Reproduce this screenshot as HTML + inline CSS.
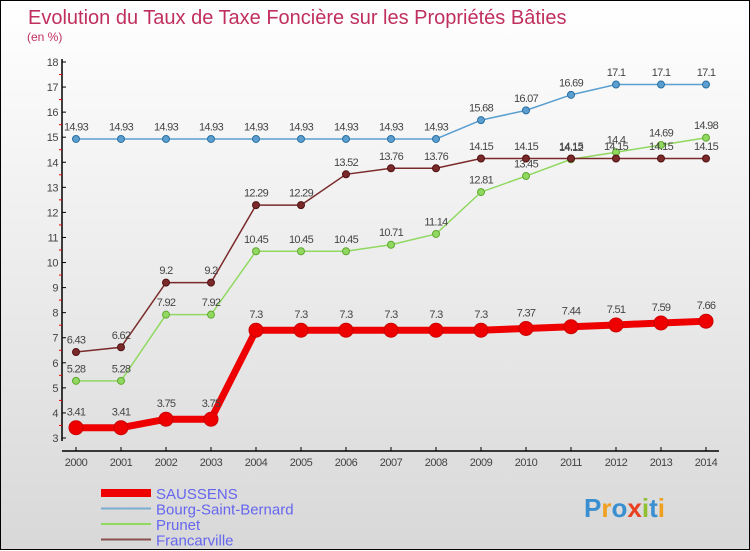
<!DOCTYPE html>
<html><head><meta charset="utf-8"><style>
html,body{margin:0;padding:0}
body{width:750px;height:550px;overflow:hidden;font-family:"Liberation Sans","DejaVu Sans",sans-serif}
#wrap{position:relative;width:748px;height:548px;border:1px solid #000;background:linear-gradient(#ffffff,#d8d8d8)}
svg{position:absolute;left:0;top:0}
</style></head><body>
<div id="wrap">
<svg id="chart" width="750" height="550">
<text x="27" y="23" font-size="20" fill="#c0305e">Evolution du Taux de Taxe Foncière sur les Propriétés Bâties</text>
<text x="26" y="40" font-size="12" fill="#c0305e">(en %)</text>
</svg>
</div>
<script>
const years=[2000,2001,2002,2003,2004,2005,2006,2007,2008,2009,2010,2011,2012,2013,2014];
const saussens=[3.41,3.41,3.75,3.75,7.3,7.3,7.3,7.3,7.3,7.3,7.37,7.44,7.51,7.59,7.66];
const bourg=[14.93,14.93,14.93,14.93,14.93,14.93,14.93,14.93,14.93,15.68,16.07,16.69,17.1,17.1,17.1];
const prunet=[5.28,5.28,7.92,7.92,10.45,10.45,10.45,10.71,11.14,12.81,13.45,14.12,14.4,14.69,14.98];
const francarville=[6.43,6.62,9.2,9.2,12.29,12.29,13.52,13.76,13.76,14.15,14.15,14.15,14.15,14.15,14.15];
const yTicks=[3,4,5,6,7,8,9,10,11,12,13,14,15,16,17,18];
const NS='http://www.w3.org/2000/svg';
const svg=document.getElementById('chart');
const X=i=>75+i*45;
const Y=v=>437-(v-3)*(376/15);
function mk(tag,attrs,parent){const e=document.createElementNS(NS,tag);for(const k in attrs)e.setAttribute(k,attrs[k]);(parent||svg).appendChild(e);return e;}
function fmt(v){return String(v);}
// axes
let ax=mk('line',{x1:61,y1:58,x2:61,y2:440,stroke:'#000','stroke-width':1.5});


let bx=mk('line',{x1:61,y1:450,x2:718,y2:450,stroke:'#000','stroke-width':1.5});


yTicks.forEach((t,i)=>{
  mk('line',{x1:61,y1:Y(t),x2:65,y2:Y(t),stroke:'#000'});
  if(i<yTicks.length-1) mk('line',{x1:58,y1:Y(t+0.5),x2:61,y2:Y(t+0.5),stroke:'#e00'});
  const tx=mk('text',{x:57,y:Y(t)+4,'font-size':11,'text-anchor':'end',fill:'#444','letter-spacing':'-0.5'});
  tx.textContent=t;
  
  
});
years.forEach((yr,i)=>{
  mk('line',{x1:X(i),y1:446,x2:X(i),y2:450,stroke:'#000'});
  const tx=mk('text',{x:X(i),y:465,'font-size':11,'text-anchor':'middle',fill:'#444','letter-spacing':'-0.5'});
  tx.textContent=yr;
  
  
});
function series(data,color,lw,r,name,dark){
  const g=mk('g',{});
  
  
  const pts=data.map((v,i)=>X(i)+','+Y(v)).join(' ');
  mk('polyline',{points:pts,fill:'none',stroke:color,'stroke-width':lw},g);
  data.forEach((v,i)=>{
    const c=mk('circle',{cx:X(i),cy:Y(v),r:r,fill:color,stroke:dark,'stroke-width':1},g);
    
    
    const t=mk('text',{x:X(i),y:Y(v)-(r+5),'font-size':11,'text-anchor':'middle',fill:'#444','letter-spacing':'-0.7'},g);
    t.textContent=fmt(v);
    
    
  });
}
series(bourg,'#5a9fd0',1.5,3.5,'bourg','#2a6fa0');
series(prunet,'#90d860',1.5,3.5,'prunet','#60a830');
series(francarville,'#7a2a2a',1.5,3.5,'francarville','#501010');
series(saussens,'#ee0000',7,7,'saussens','#cc0000');
// legend
const leg=[['SAUSSENS','#ee0000',8],['Bourg-Saint-Bernard','#7aaed0',2],['Prunet','#90d860',2],['Francarville','#8a5050',2]];
leg.forEach((l,i)=>{
  const y=492+i*15.5;
  const g=mk('g',{});
  
  
  mk('line',{x1:100,y1:y,x2:150,y2:y,stroke:l[1],'stroke-width':l[2]},g);
  const t=mk('text',{x:155,y:y+6,'font-size':15,fill:'#6666ee'},g);
  t.textContent=l[0];
});
// logo
const logo=mk('text',{x:583,y:516,'font-size':26,'font-weight':'bold'});


[['P','#3a8fd0'],['r','#f0a020'],['o','#3a8fd0'],['x','#e84020'],['i','#90c030'],['t','#3a8fd0'],['i','#f0a020']].forEach(p=>{const s=mk('tspan',{fill:p[1]},logo);s.textContent=p[0];});
</script>
</body></html>
